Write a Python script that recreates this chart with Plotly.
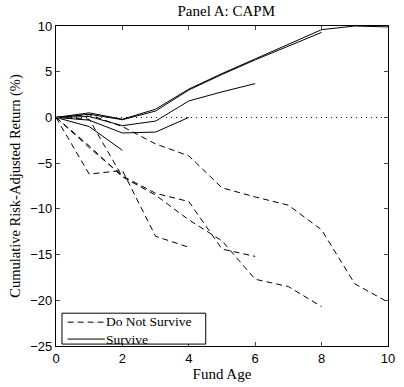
import plotly.graph_objects as go

# Do Not Survive (dashed) series
ns_x_10 = [0, 1, 2, 3, 4, 5, 6, 7, 8, 9, 10]
ns_y_10 = [0, 0.3, -1.0, -2.9, -4.2, -7.7, -8.7, -9.6, -12.3, -18.2, -20.2]
ns_x_8 = [0, 1, 2, 3, 4, 5, 6, 7, 8]
ns_y_8 = [0, -3.1, -6.5, -8.5, -11.2, -13.5, -17.7, -18.5, -20.7]
ns_x_6 = [0, 1, 2, 3, 4, 5, 6]
ns_y_6 = [0, -3.3, -6.4, -8.3, -9.2, -14.4, -15.2]
ns_x_4 = [0, 1, 2, 3, 4]
ns_y_4 = [0, -6.2, -5.8, -13.0, -14.2]
ns_x_2 = [0, 1, 2]
ns_y_2 = [0, -0.2, -6.5]

# Survive (solid) series
s_x_10 = [0, 1, 2, 3, 4, 5, 6, 7, 8, 9, 10]
s_y_10 = [0, 0.5, -0.2, 0.9, 3.1, 4.8, 6.4, 8.0, 9.6, 10.0, 9.9]
s_x_8 = [0, 1, 2, 3, 4, 5, 6, 7, 8]
s_y_8 = [0, 0.35, -0.25, 0.7, 3.0, 4.7, 6.3, 7.8, 9.3]
s_x_6 = [0, 1, 2, 3, 4, 5, 6]
s_y_6 = [0, 0.1, -0.9, -0.4, 1.8, 2.8, 3.7]
s_x_4 = [0, 1, 2, 3, 4]
s_y_4 = [0, -0.3, -1.7, -1.6, 0]
s_x_2 = [0, 1, 2]
s_y_2 = [0, -1.0, -3.6]

zero_x = [0, 10]
zero_y = [0, 0]

x_ticks = [0, 2, 4, 6, 8, 10]
y_ticks = [-25, -20, -15, -10, -5, 0, 5, 10]
legend_labels = ["Do Not Survive", "Survive"]

DASH = "6px,4px"
fig = go.Figure()

fig.add_trace(go.Scatter(x=zero_x, y=zero_y, mode="lines", showlegend=False,
                         line=dict(color="black", width=1, dash="1px,4px")))

ns_series = [(ns_x_10, ns_y_10), (ns_x_8, ns_y_8), (ns_x_6, ns_y_6),
             (ns_x_4, ns_y_4), (ns_x_2, ns_y_2)]
for xs, ys in ns_series:
    fig.add_trace(go.Scatter(x=xs, y=ys, mode="lines", name=legend_labels[0],
                             showlegend=False,
                             line=dict(color="black", width=1, dash=DASH)))

s_series = [(s_x_10, s_y_10), (s_x_8, s_y_8), (s_x_6, s_y_6),
            (s_x_4, s_y_4), (s_x_2, s_y_2)]
for xs, ys in s_series:
    fig.add_trace(go.Scatter(x=xs, y=ys, mode="lines", name=legend_labels[1],
                             showlegend=False,
                             line=dict(color="black", width=1)))

serif = "Liberation Serif"
sans = "Liberation Sans"

# Compact MATLAB-style legend box (paper coordinates)
shapes = [
    dict(type="rect", xref="paper", yref="paper", x0=0.018, x1=0.451, y0=0.006, y1=0.1025,
         line=dict(color="black", width=1), fillcolor="white", layer="above"),
    dict(type="line", xref="paper", yref="paper", x0=0.035, x1=0.147, y0=0.0745, y1=0.0745,
         line=dict(color="black", width=1, dash=DASH), layer="above"),
    dict(type="line", xref="paper", yref="paper", x0=0.035, x1=0.147, y0=0.0217, y1=0.0217,
         line=dict(color="black", width=1), layer="above"),
]
annotations = [
    dict(text=legend_labels[0] + "<br>" + legend_labels[1], xref="paper", yref="paper",
         x=0.149, y=0.049, xanchor="left", yanchor="middle", align="left",
         showarrow=False, borderpad=0,
         font=dict(family=serif, size=13.5, color="black")),
]

fig.update_layout(
    width=404, height=387,
    margin=dict(l=56, r=9, t=26, b=39),
    paper_bgcolor="white", plot_bgcolor="white",
    showlegend=False,
    shapes=shapes, annotations=annotations,
    title=dict(text="Panel A: CAPM", x=0.56, xanchor="center", y=0.985, yanchor="top",
               font=dict(family=serif, size=15, color="black")),
    xaxis=dict(range=[0, 10], tickvals=x_ticks, ticks="inside", ticklen=4,
               showline=True, linecolor="black", linewidth=1.3, mirror="ticks",
               showgrid=False, zeroline=False,
               tickfont=dict(family=sans, size=13, color="black"),
               title=dict(text="Fund Age", standoff=2,
                          font=dict(family=serif, size=15, color="black"))),
    yaxis=dict(range=[-25, 10], tickvals=y_ticks, ticks="inside", ticklen=4,
               showline=True, linecolor="black", linewidth=1.3, mirror="ticks",
               showgrid=False, zeroline=False,
               tickfont=dict(family=sans, size=13, color="black"),
               title=dict(text="Cumulative Risk-Adjusted Return (%)", standoff=6,
                          font=dict(family=serif, size=14.5, color="black"))),
)

fig.write_html("out.html")
